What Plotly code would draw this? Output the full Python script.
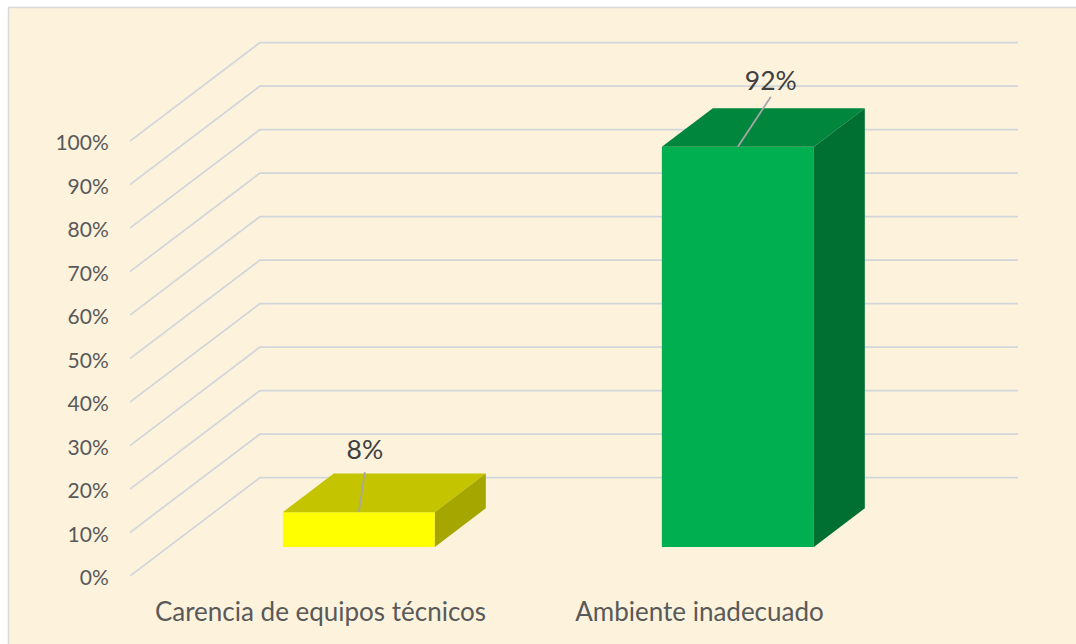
import plotly.graph_objects as go

# ---- data ----
categories = ["Carencia de equipos técnicos", "Ambiente inadecuado"]
values = [8, 92]
tick_values = [0, 10, 20, 30, 40, 50, 60, 70, 80, 90, 100]
front_colors = ["#FFFF00", "#00B050"]
top_colors = ["#C4C400", "#00863D"]
side_colors = ["#A6A600", "#006F32"]

# ---- layout geometry (pixels) ----
W, H = 1076, 644
L, R, T, B = 130, 58, 40, 68
PX_PER_UNIT = 379.0          # px between categories
PX_PER_PCT = 4.35            # px per percentage point
X0_PX = 320.5                # px of first category on the floor's front edge
WALL_DX, WALL_DY = 130 / PX_PER_UNIT, 98.5 / PX_PER_PCT
BAR_FRONT = 0.295            # depth position of bar front face
BAR_DEPTH = 0.392            # depth of bar as share of floor depth
BAR_WIDTH = 152 / PX_PER_UNIT
LABEL_DX = [6 / PX_PER_UNIT, 33 / PX_PER_UNIT]
LEADER_RISE = [40 / PX_PER_PCT, 50 / PX_PER_PCT]
LABEL_RISE = [60 / PX_PER_PCT, 63 / PX_PER_PCT]

x_range = [(L - X0_PX) / PX_PER_UNIT, (W - R - X0_PX) / PX_PER_UNIT]
y_range = [0, (H - B - T) / PX_PER_PCT]
PW, PH = W - L - R, H - T - B

GRID = "#D2D5DA"
CREAM = "#FDF3DD"

fx = [i + BAR_FRONT * WALL_DX for i in range(len(values))]
fb = BAR_FRONT * WALL_DY
dx, dy = BAR_DEPTH * WALL_DX, BAR_DEPTH * WALL_DY
hw = BAR_WIDTH / 2

fig = go.Figure()

# front faces
fig.add_trace(go.Bar(x=fx, y=values, base=[fb] * len(values), width=BAR_WIDTH,
                     marker=dict(color=front_colors, line=dict(width=0)),
                     hoverinfo="skip", showlegend=False))

# top and side faces
for cx, v, tc, sc in zip(fx, values, top_colors, side_colors):
    top = fb + v
    fig.add_trace(go.Scatter(
        x=[cx - hw, cx + hw, cx + hw + dx, cx - hw + dx, cx - hw],
        y=[top, top, top + dy, top + dy, top],
        mode="lines", fill="toself", fillcolor=tc, line=dict(width=0),
        hoverinfo="skip", showlegend=False))
    fig.add_trace(go.Scatter(
        x=[cx + hw, cx + hw + dx, cx + hw + dx, cx + hw, cx + hw],
        y=[top, top + dy, fb + dy, fb, top],
        mode="lines", fill="toself", fillcolor=sc, line=dict(width=0),
        hoverinfo="skip", showlegend=False))

# leader lines and data labels
for cx, v, ldx, rise, lrise in zip(fx, values, LABEL_DX, LEADER_RISE, LABEL_RISE):
    top = fb + v
    fig.add_trace(go.Scatter(x=[cx, cx + ldx], y=[top, top + rise], mode="lines",
                             line=dict(color="#A6A6A6", width=1.75),
                             hoverinfo="skip", showlegend=False))
    fig.add_trace(go.Scatter(x=[cx + ldx], y=[top + lrise], mode="text",
                             text=[f"{v}%"], textposition="middle center",
                             textfont=dict(family="Lato", size=26.5, color="#404040"),
                             hoverinfo="skip", showlegend=False))

# background panel and wall/floor grid lines
shapes = [dict(type="rect", xref="paper", yref="paper", layer="below",
               x0=(8.5 - L) / PW, x1=(W + 20 - L) / PW,
               y0=-(B + 20) / PH, y1=(H - B - 7.5) / PH,
               fillcolor=CREAM, line=dict(color="#D9D9D9", width=1.5))]
for t in tick_values:
    shapes.append(dict(type="line", xref="x", yref="y", layer="below",
                       x0=x_range[0], y0=t, x1=x_range[0] + WALL_DX, y1=t + WALL_DY,
                       line=dict(color=GRID, width=1.75)))
    shapes.append(dict(type="line", xref="x", yref="y", layer="below",
                       x0=x_range[0] + WALL_DX, y0=t + WALL_DY, x1=x_range[1], y1=t + WALL_DY,
                       line=dict(color=GRID, width=1.75)))

fig.update_layout(
    width=W, height=H, autosize=False,
    margin=dict(l=L, r=R, t=T, b=B, pad=0, autoexpand=False),
    paper_bgcolor="white", plot_bgcolor="rgba(0,0,0,0)",
    shapes=shapes, showlegend=False, barmode="overlay",
    font=dict(family="Lato", color="#595959"),
    xaxis=dict(range=x_range, tickmode="array", tickvals=list(range(len(categories))),
               ticktext=categories, showgrid=False, zeroline=False, showline=False,
               automargin=False, ticks="outside", ticklen=13, tickcolor="rgba(0,0,0,0)",
               tickfont=dict(family="Lato", size=26, color="#595959")),
    yaxis=dict(range=y_range, tickmode="array", tickvals=tick_values,
               ticktext=[f"{t}%" for t in tick_values], showgrid=False, zeroline=False,
               automargin=False, showline=False, ticks="outside", ticklen=16, tickcolor="rgba(0,0,0,0)",
               ticklabelshift=2,
               tickfont=dict(family="Lato", size=21, color="#595959")),
)

fig.write_html("out.html", post_script="document.body.style.margin='0';",
               config={"displayModeBar": False})
